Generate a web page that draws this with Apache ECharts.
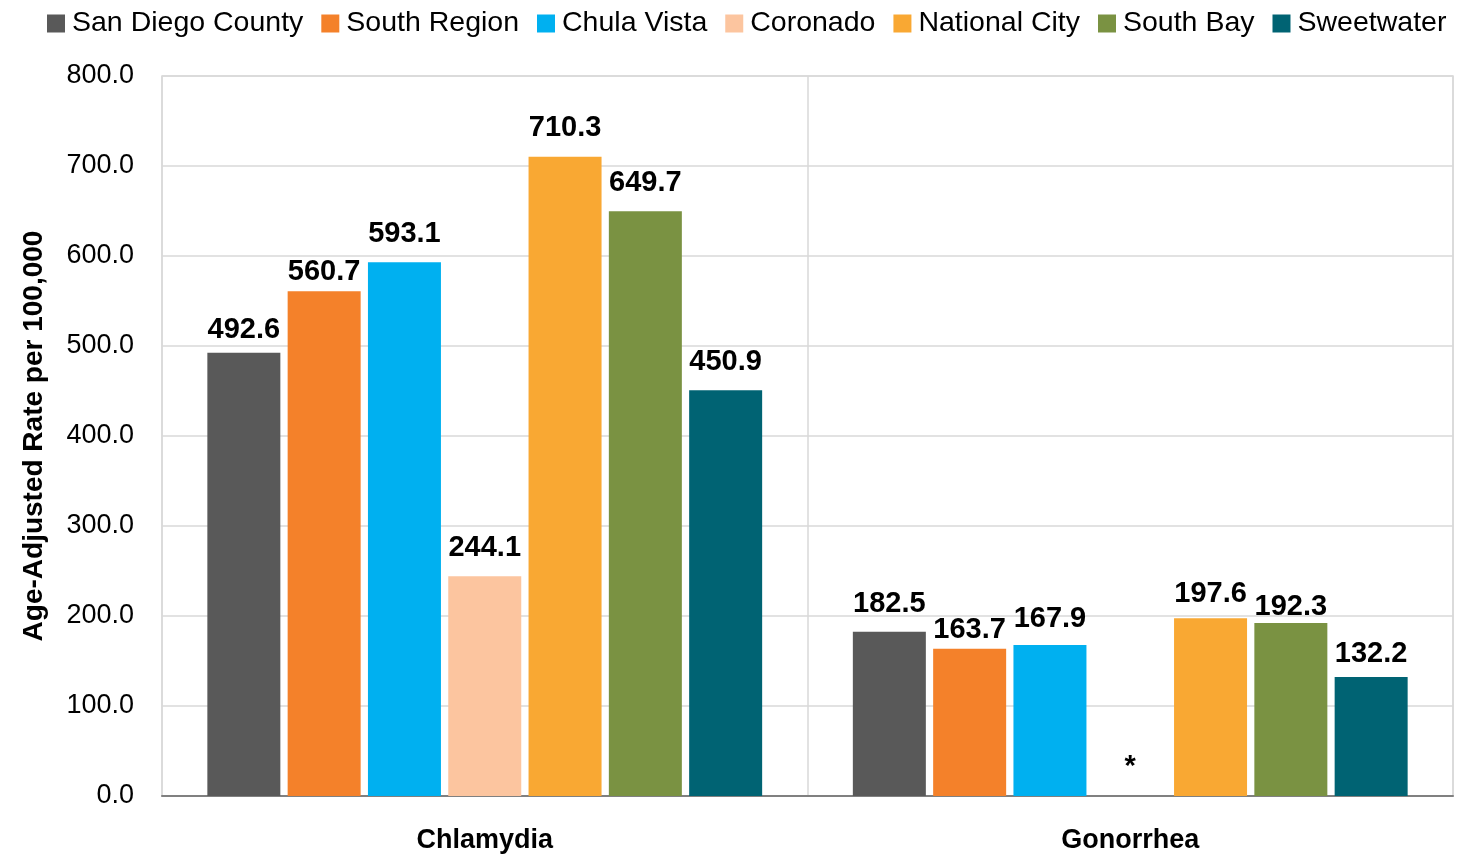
<!DOCTYPE html>
<html>
<head>
<meta charset="utf-8">
<script src="https://cdn.jsdelivr.net/npm/echarts@6/dist/echarts.min.js"></script>
<style>
  html, body { margin: 0; padding: 0; background: #fff; }
  #chart { width: 1471px; height: 857px; }
</style>
</head>
<body>
<div id="chart"></div>
<script>
// Age-adjusted STD rates per 100,000, South Region, San Diego County
const categories = ['Chlamydia', 'Gonorrhea'];
const seriesNames = ['San Diego County', 'South Region', 'Chula Vista', 'Coronado', 'National City', 'South Bay', 'Sweetwater'];
const sanDiegoCounty = [492.6, 182.5];
const southRegion = [560.7, 163.7];
const chulaVista = [593.1, 167.9];
const coronado = [244.1, null];   // gonorrhea rate suppressed (*)
const nationalCity = [710.3, 197.6];
const southBay = [649.7, 192.3];
const sweetwater = [450.9, 132.2];
const yTicks = { min: 0, max: 800, interval: 100 };

const seriesValues = [sanDiegoCounty, southRegion, chulaVista, coronado, nationalCity, southBay, sweetwater];
const colors = ['#595959', '#F4812A', '#00B0F0', '#FCC59F', '#F9A833', '#7A9242', '#006373'];
// label gap above each bar (per series, per category) so neighbouring labels stay clear
const labelGaps = [[8, 13], [5, 4], [14, 11], [14, 15], [14, 10], [14, 1], [14, 9]];
const FONT = 'Liberation Sans';

const series = seriesNames.map((name, i) => ({
  name: name,
  type: 'bar',
  barWidth: 73,
  barGap: '10%',
  itemStyle: { color: colors[i] },
  label: {
    show: true,
    position: 'top',
    color: '#000',
    fontFamily: FONT,
    fontWeight: 'bold',
    fontSize: 29
  },
  data: seriesValues[i].map((v, j) => v == null
    ? { value: 0, label: { formatter: '*', distance: labelGaps[i][j] } }
    : { value: v, label: { formatter: v.toFixed(1), distance: labelGaps[i][j] } })
}));

const chart = echarts.init(document.getElementById('chart'), null, { renderer: 'canvas' });
chart.setOption({
  animation: false,
  backgroundColor: '#fff',
  color: colors,
  textStyle: { fontFamily: FONT },
  legend: {
    top: 4,
    left: 42,
    itemWidth: 18,
    itemHeight: 18,
    itemGap: 18,
    icon: 'rect',
    textStyle: { fontFamily: FONT, fontSize: 28.5, color: '#000', padding: [0, 0, 0, 2] },
    data: seriesNames
  },
  grid: { left: 162, right: 18, top: 76, bottom: 61, show: true, borderColor: '#D9D9D9', borderWidth: 1.5 },
  xAxis: {
    type: 'category',
    data: categories,
    axisLine: { lineStyle: { color: '#808080', width: 2 } },
    axisTick: { show: false },
    splitLine: { show: true, lineStyle: { color: '#D9D9D9', width: 1.5 } },
    axisLabel: { fontFamily: FONT, fontWeight: 'bold', fontSize: 27, color: '#000', margin: 31 }
  },
  yAxis: {
    type: 'value',
    min: yTicks.min,
    max: yTicks.max,
    interval: yTicks.interval,
    name: 'Age-Adjusted Rate per 100,000',
    nameLocation: 'middle',
    nameGap: 114,
    nameTextStyle: { fontFamily: FONT, fontWeight: 'bold', fontSize: 28, color: '#000' },
    axisLine: { show: false },
    axisTick: { show: false },
    splitLine: { lineStyle: { color: '#D9D9D9', width: 1.5 } },
    axisLabel: { fontFamily: FONT, fontSize: 27, color: '#000', margin: 28, formatter: v => v.toFixed(1) }
  },
  series: series
});
</script>
</body>
</html>
